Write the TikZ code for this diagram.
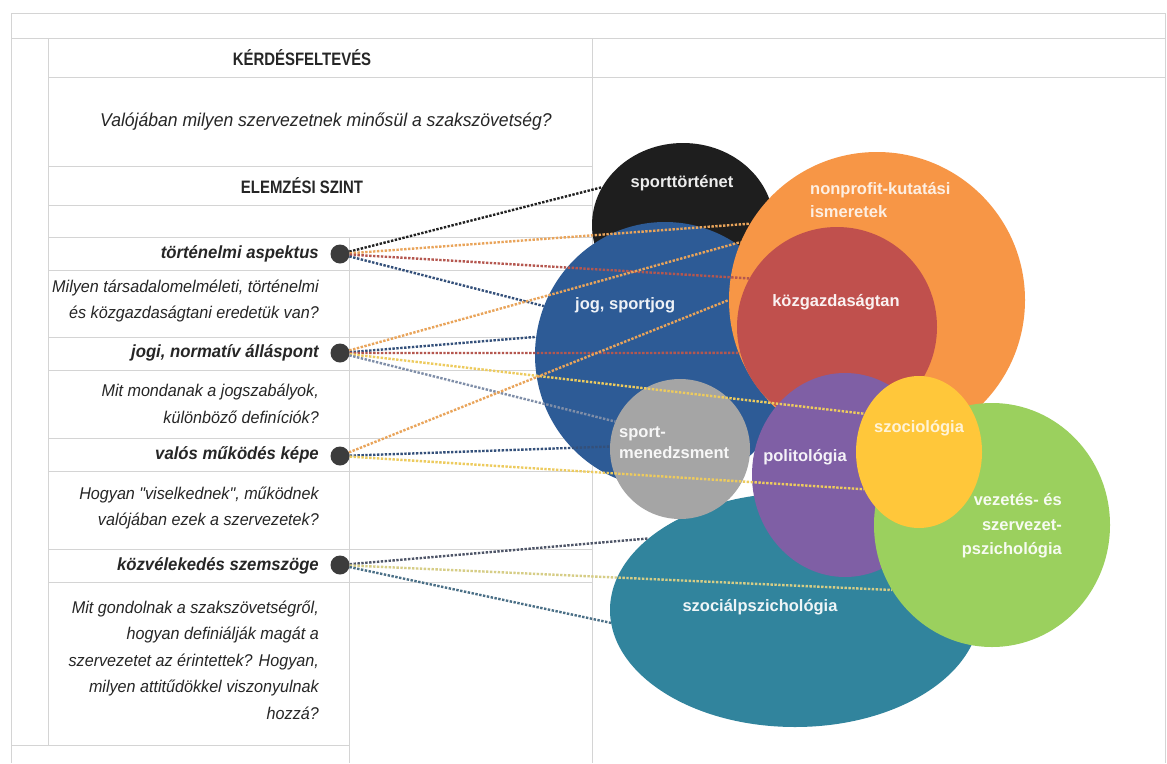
\documentclass[tikz,border=0pt]{standalone}
\usepackage{fontspec}
\setmainfont{Liberation Sans}
\newfontfamily\tablefont{Liberation Sans}[FakeStretch=0.95]
\newfontfamily\headfont{Liberation Sans}[FakeStretch=0.83]
\usetikzlibrary{shapes.geometric}

\definecolor{gridgray}{HTML}{D4D4D4}
\definecolor{textgray}{HTML}{262626}
\definecolor{hubgray}{HTML}{3C3C3C}
\definecolor{sportblack}{HTML}{1E1E1E}
\definecolor{jogblue}{HTML}{2D5B96}
\definecolor{npOrange}{HTML}{F79646}
\definecolor{kgRed}{HTML}{C0504D}
\definecolor{smGray}{HTML}{A5A5A5}
\definecolor{polPurple}{HTML}{7F5FA5}
\definecolor{szocYellow}{HTML}{FFC73A}
\definecolor{vezGreen}{HTML}{9BD05E}
\definecolor{spTeal}{HTML}{31849D}
\definecolor{lnBlack}{HTML}{222222}
\definecolor{lnOrange}{HTML}{E9A45A}
\definecolor{lnRed}{HTML}{B5574F}
\definecolor{lnNavy}{HTML}{34507A}
\definecolor{lnYellow}{HTML}{EDCB5E}
\definecolor{lnSteel}{HTML}{7F8EA8}
\definecolor{lnDark}{HTML}{4F5668}
\definecolor{lnOlive}{HTML}{D6CD86}
\definecolor{lnTeal}{HTML}{4A6F86}

\tikzset{
  gridline/.style={draw=gridgray, line width=0.8pt},
  head/.style={text=textgray, font=\headfont\bfseries\fontsize{18}{21}\selectfont},
  quest/.style={text=textgray, font=\tablefont\itshape\fontsize{18.5}{22}\selectfont},
  aspect/.style={anchor=east, inner sep=0pt, text=textgray, font=\tablefont\bfseries\itshape\fontsize{17.6}{21}\selectfont},
  explain/.style={anchor=east, inner sep=0pt, align=right, text=textgray, font=\tablefont\itshape\fontsize{17}{26.5}\selectfont},
  hub/.style={circle, fill=hubgray, minimum size=19pt, inner sep=0pt},
  area/.style={ellipse, inner sep=0pt},
  arealabel/.style={text=white, text opacity=0.92, inner sep=0pt, font=\bfseries\fontsize{16.5}{18}\selectfont},
  link/.style={line width=2.4pt, dash pattern=on 2.4pt off 1.5pt}
}

\begin{document}
\begin{tikzpicture}[x=1pt, y=-1pt]
    \useasboundingbox[fill=white] (0,0) rectangle (1167,763);

    % Table
    \draw[gridline] (11,13) -- (1165,13);
    \draw[gridline] (11,38) -- (1165,38);
    \draw[gridline] (48,77) -- (1165,77);
    \draw[gridline] (11,13) -- (11,763);
    \draw[gridline] (1165,13) -- (1165,763);
    \draw[gridline] (48,38) -- (48,745);
    \draw[gridline] (592,38) -- (592,763);
    \draw[gridline] (349,237) -- (349,763);
    \draw[gridline] (11,745) -- (349,745);
    \foreach \y in {166,205,237,270,337,370,438,471,549,582}
        \draw[gridline] (48,\y) -- (592,\y);

    \node[head] (kerdes) at (302,58) {KÉRDÉSFELTEVÉS};
    \node[quest] (kerdestext) at (326,122) {Valójában milyen szervezetnek minősül a szakszövetség?};
    \node[head] (szint) at (302,186) {ELEMZÉSI SZINT};

    \node[aspect] (tort) at (319,254) {történelmi aspektus};
    \node[explain] (torttext) at (319,301) {Milyen társadalomelméleti, történelmi\\és közgazdaságtani eredetük van?};
    \node[aspect] (jogi) at (319,353) {jogi, normatív álláspont};
    \node[explain] (jogitext) at (319,404) {Mit mondanak a jogszabályok,\\különböző definíciók?};
    \node[aspect] (valos) at (319,455) {valós működés képe};
    \node[explain] (valostext) at (319,508) {Hogyan "viselkednek", működnek\\valójában ezek a szervezetek?};
    \node[aspect] (kozvel) at (319,566) {közvélekedés szemszöge};
    \node[explain] (kozveltext) at (319,660) {Mit gondolnak a szakszövetségről,\\hogyan definiálják magát a\\szervezetet az érintettek? Hogyan,\\milyen attitűdökkel viszonyulnak\\hozzá?};

    % Areas
    \node[area, fill=sportblack, minimum width=182pt, minimum height=164pt] (sport) at (683,225) {};
    \node[area, fill=jogblue, minimum width=260pt, minimum height=266pt] (jog) at (665,355) {};
    \node[area, fill=spTeal, minimum width=370pt, minimum height=234pt] (szocpszich) at (795,610) {};
    \node[area, fill=npOrange, minimum width=296pt, minimum height=296pt] (nonprofit) at (877,300) {};
    \node[area, fill=kgRed, minimum width=200pt, minimum height=200pt] (kozgaz) at (837,327) {};
    \node[area, fill=smGray, minimum width=140pt, minimum height=140pt] (menedzs) at (680,449) {};
    \node[area, fill=polPurple, minimum width=186pt, minimum height=204pt] (politol) at (845,475) {};
    \node[area, fill=vezGreen, minimum width=236pt, minimum height=244pt] (vezetes) at (992,525) {};
    \node[area, fill=szocYellow, minimum width=126pt, minimum height=152pt] (szociol) at (919,452) {};

    % Hubs
    \node[hub] (d1) at (340,254) {};
    \node[hub] (d2) at (340,353) {};
    \node[hub] (d3) at (340,456) {};
    \node[hub] (d4) at (340,565) {};

    % Links
    \draw[link, lnBlack]  (d1) -- (sport.155);
    \draw[link, lnOrange] (d1) -- (nonprofit.149);
    \draw[link, lnRed]    (d1) -- (kozgaz.151);
    \draw[link, lnNavy]   (d1) -- (jog.158);

    \draw[link, lnOrange] (d2) -- (nonprofit.157);
    \draw[link, lnNavy]   (d2) -- (jog.172);
    \draw[link, lnRed]    (d2) -- (kozgaz.195);
    \draw[link, lnYellow] (d2) -- (szociol.145);
    \draw[link, lnSteel]  (d2) -- (menedzs.157);

    \draw[link, lnOrange] (d3) -- (nonprofit.180);
    \draw[link, lnNavy]   (d3) -- (menedzs.178);
    \draw[link, lnYellow] (d3) -- (szociol.214);

    \draw[link, lnDark]   (d4) -- (szocpszich.154);
    \draw[link, lnOlive]  (d4) -- (vezetes.213);
    \draw[link, lnTeal]   (d4) -- (szocpszich.184);

    % Area labels
    \node[arealabel] (sportlabel) at (682,183) {sporttörténet};
    \node[arealabel, anchor=west, align=left, font=\bfseries\fontsize{16.5}{23}\selectfont, text opacity=0.85] (nplabel) at (810,200) {nonprofit-kutatási\\ismeretek};
    \node[arealabel] (kglabel) at (836,302) {közgazdaságtan};
    \node[arealabel, anchor=west] (joglabel) at (575,305) {jog, sportjog};
    \node[arealabel, anchor=west, align=left, font=\bfseries\fontsize{16.5}{21}\selectfont] (smlabel) at (619,443) {sport-\\menedzsment};
    \node[arealabel] (pollabel) at (805,457) {politológia};
    \node[arealabel, text opacity=0.8] (szoclabel) at (919,428) {szociológia};
    \node[arealabel, anchor=east, align=right, font=\bfseries\fontsize{16.5}{24.5}\selectfont] (vezlabel) at (1062,526) {vezetés- és\\szervezet-\\pszichológia};
    \node[arealabel] (splabel) at (760,607) {szociálpszichológia};
\end{tikzpicture}
\end{document}
